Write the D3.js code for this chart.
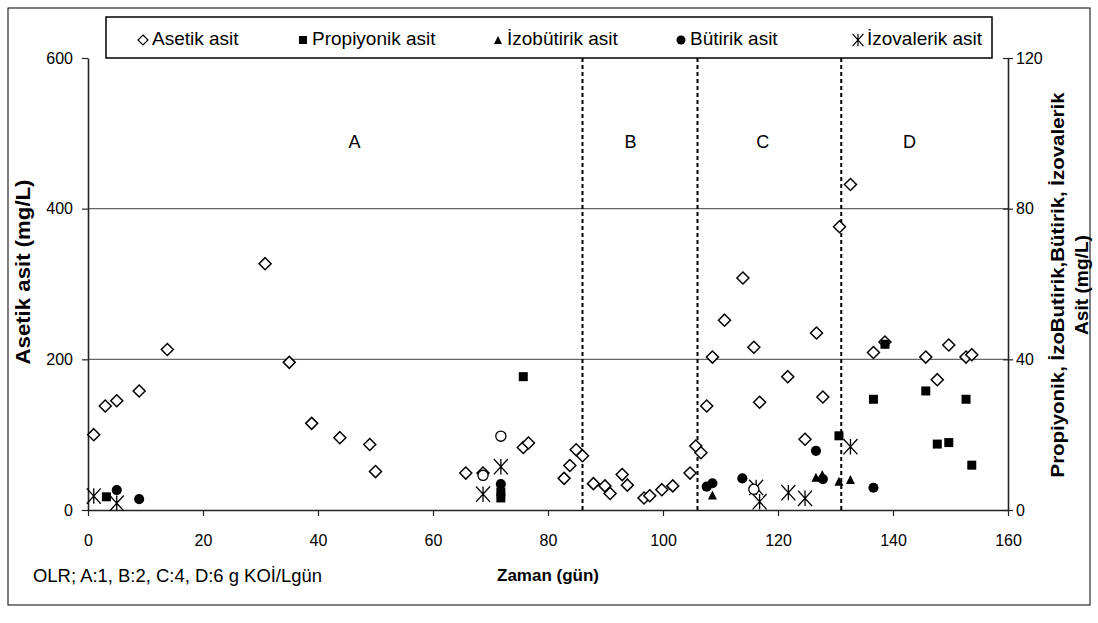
<!DOCTYPE html>
<html>
<head>
<meta charset="utf-8">
<script src="https://cdn.jsdelivr.net/npm/d3@7"></script>
<style>
  body { margin: 0; background: #fff; }
  text { font-family: Arial, "Liberation Sans", sans-serif; fill: #000; }
</style>
</head>
<body>
<div id="chart"></div>
<script>
// gün (x) ve değerler okunarak girildi
const asetikGun = [1, 3, 5, 8.9, 13.8, 30.8, 35, 38.9, 43.8, 49, 50, 65.7, 68.7, 75.7, 76.6, 82.8, 83.8, 84.9, 86, 87.9, 89.9, 90.8, 92.9, 93.8, 96.7, 97.7, 99.8, 101.7, 104.7, 105.7, 106.6, 107.6, 108.6, 110.7, 113.9, 115.8, 116.8, 121.7, 124.7, 126.7, 127.8, 130.7, 132.6, 136.6, 138.6, 145.7, 147.7, 149.7, 152.7, 153.7];
const asetik = [100, 138, 145, 158, 213, 327, 196, 115, 96, 87, 51, 49, 49, 83, 89, 42, 59, 80, 72, 35, 32, 22, 47, 33, 16, 19, 27, 32, 49, 85, 76, 138, 203, 252, 308, 216, 143, 177, 94, 235, 150, 376, 432, 209, 223, 203, 173, 219, 203, 206];

const propiyonikGun = [3.2, 71.8, 71.8, 75.7, 130.6, 136.6, 138.6, 145.7, 147.7, 149.7, 152.7, 153.7];
const propiyonik = [3.5, 4.8, 3.2, 35.4, 19.7, 29.4, 44, 31.6, 17.5, 17.9, 29.4, 11.9];

const izobutirikGun = [108.6, 126.6, 127.7, 130.6, 132.6];
const izobutirik = [4.0, 8.7, 9.4, 7.6, 8.1];

const butirikGun = [5, 8.9, 71.8, 107.6, 108.6, 113.8, 126.6, 127.8, 136.6];
const butirik = [5.3, 2.9, 6.9, 6.2, 7.1, 8.4, 15.7, 8.2, 5.9];

const izovalerikGun = [1, 5, 68.7, 71.8, 116.2, 116.8, 121.8, 124.7, 132.6];
const izovalerik = [3.7, 1.8, 4.2, 11.5, 6.0, 2.2, 4.6, 3.1, 16.8];

// lejantta olmayan boş daireler (sol eksen)
const bosDaireGun = [68.7, 71.8, 115.8];
const bosDaire = [46, 98, 27.5];

const donemSinir = [86, 106, 131];
const donemAd = ['A', 'B', 'C', 'D'];
const donemMerkez = [46, 94, 117, 142.5];

const xTicks = [0, 20, 40, 60, 80, 100, 120, 140, 160];
const solTicks = [0, 200, 400, 600];
const sagTicks = [0, 40, 80, 120];
const izgara = [200, 400];

const seriAd = ['Asetik asit', 'Propiyonik asit', 'İzobütirik asit', 'Bütirik asit', 'İzovalerik asit'];

const width = 1098, height = 623;

const svg = d3.select('#chart').append('svg')
  .attr('width', width)
  .attr('height', height);

const x = d3.scaleLinear().domain([0, 160]).range([88, 1008]);
const yL = d3.scaleLinear().domain([0, 600]).range([510, 58]);
const yR = d3.scaleLinear().domain([0, 120]).range([510, 58]);

// *** custom symbols *** //
const elmas = { draw(ctx, size) { const r = Math.sqrt(size) / 2;
  ctx.moveTo(0, -r); ctx.lineTo(r, 0); ctx.lineTo(0, r); ctx.lineTo(-r, 0); ctx.closePath(); } };
const kare = { draw(ctx, size) { const r = Math.sqrt(size) / 2; ctx.rect(-r, -r, 2 * r, 2 * r); } };
const ucgen = { draw(ctx, size) { const r = Math.sqrt(size) / 2;
  ctx.moveTo(0, -r); ctx.lineTo(r, r); ctx.lineTo(-r, r); ctx.closePath(); } };
const yildiz = { draw(ctx, size) { const r = Math.sqrt(size) / 2; const h = r * 1.1;
  ctx.moveTo(-r, -h); ctx.lineTo(r, h); ctx.moveTo(-r, h); ctx.lineTo(r, -h);
  ctx.moveTo(0, -h); ctx.lineTo(0, h); } };

// outer frame
svg.append('rect').attr('x', 8).attr('y', 8).attr('width', 1082).attr('height', 597)
  .attr('fill', 'none').attr('stroke', '#000').attr('stroke-width', 1);

// gridlines
svg.append('g').selectAll('line').data(izgara).join('line')
  .attr('x1', x(0)).attr('x2', x(160))
  .attr('y1', d => yL(d)).attr('y2', d => yL(d))
  .attr('stroke', '#666').attr('stroke-width', 1.2);

// axes
const axL = svg.append('g').attr('transform', `translate(${x(0)},0)`)
  .call(d3.axisLeft(yL).tickValues(solTicks).tickSizeOuter(0).tickSizeInner(6).tickPadding(9));
const axR = svg.append('g').attr('transform', `translate(${x(160)},0)`)
  .call(d3.axisRight(yR).tickValues(sagTicks).tickSizeOuter(0).tickSizeInner(5).tickPadding(3));
axR.selectAll('.tick line').attr('x1', -5);
const axB = svg.append('g').attr('transform', `translate(0,${yL(0)})`)
  .call(d3.axisBottom(x).tickValues(xTicks).tickSizeOuter(0).tickSizeInner(6).tickPadding(19));
[axL, axR, axB].forEach(a => {
  a.select('.domain').attr('stroke', '#222').attr('stroke-width', 1.6);
  a.selectAll('.tick line').attr('stroke', '#222').attr('stroke-width', 1.2);
  a.selectAll('.tick text').attr('font-size', 16).attr('font-family', 'Arial, "Liberation Sans", sans-serif').attr('fill', '#000');
});

// period separators
svg.append('g').selectAll('line').data(donemSinir).join('line')
  .attr('x1', d => x(d)).attr('x2', d => x(d))
  .attr('y1', yL(0)).attr('y2', yL(600))
  .attr('stroke', '#000').attr('stroke-width', 2).attr('stroke-dasharray', '4,3');

svg.append('g').selectAll('text').data(donemAd).join('text')
  .attr('x', (d, i) => x(donemMerkez[i]) + 2).attr('y', yL(487))
  .attr('text-anchor', 'middle').attr('dominant-baseline', 'middle')
  .attr('font-size', 18).text(d => d);

// *** series *** //
function seri(gun, deger, y, tip, boyut, dolgu, cizgi, cw) {
  svg.append('g').selectAll('path').data(deger).join('path')
    .attr('transform', (d, i) => `translate(${x(gun[i])},${y(d)})`)
    .attr('d', d3.symbol().type(tip).size(boyut * boyut))
    .attr('fill', dolgu).attr('stroke', cizgi).attr('stroke-width', cw);
}
seri(asetikGun, asetik, yL, elmas, 12, '#fff', '#000', 1.5);
seri(propiyonikGun, propiyonik, yR, kare, 9, '#000', 'none', 0);
seri(izobutirikGun, izobutirik, yR, ucgen, 9, '#000', 'none', 0);
seri(butirikGun, butirik, yR, d3.symbolCircle, 9, '#000', 'none', 0);
seri(izovalerikGun, izovalerik, yR, yildiz, 14, 'none', '#000', 1.3);
seri(bosDaireGun, bosDaire, yL, d3.symbolCircle, 9, '#fff', '#000', 1.3);

// legend
const lg = svg.append('g');
lg.append('rect').attr('x', 106).attr('y', 17).attr('width', 886).attr('height', 41)
  .attr('fill', '#fff').attr('stroke', '#000').attr('stroke-width', 1.5);
const lgX = [143, 303, 498, 681, 858];
const lgTip = [elmas, kare, ucgen, d3.symbolCircle, yildiz];
const lgBoy = [10, 8, 8, 8, 11];
lg.selectAll('path').data(seriAd).join('path')
  .attr('transform', (d, i) => `translate(${lgX[i]},40)`)
  .attr('d', (d, i) => d3.symbol().type(lgTip[i]).size(lgBoy[i] * lgBoy[i])())
  .attr('fill', (d, i) => i === 0 ? '#fff' : i === 4 ? 'none' : '#000')
  .attr('stroke', (d, i) => i === 0 || i === 4 ? '#000' : 'none')
  .attr('stroke-width', 1.2);
lg.selectAll('text').data(seriAd).join('text')
  .attr('x', (d, i) => lgX[i] + 9).attr('y', 40)
  .attr('dominant-baseline', 'middle').attr('font-size', 19)
  .text(d => d);

// axis titles
svg.append('text').attr('transform', `translate(25,272) rotate(-90)`)
  .attr('text-anchor', 'middle').attr('dominant-baseline', 'middle')
  .attr('font-size', 20).attr('font-weight', 'bold')
  .attr('textLength', 185).attr('lengthAdjust', 'spacingAndGlyphs')
  .text('Asetik asit (mg/L)');
const sagBaslik = ['Propiyonik, İzoButirik,Bütirik, İzovalerik', 'Asit (mg/L)'];
const sagUzunluk = [385, 100];
svg.append('g').selectAll('text').data(sagBaslik).join('text')
  .attr('transform', (d, i) => `translate(${1059 + i * 24},285) rotate(-90)`)
  .attr('text-anchor', 'middle').attr('dominant-baseline', 'middle')
  .attr('font-size', 19).attr('font-weight', 'bold')
  .attr('textLength', (d, i) => sagUzunluk[i]).attr('lengthAdjust', 'spacingAndGlyphs')
  .text(d => d);
svg.append('text').attr('x', x(80)).attr('y', 577)
  .attr('text-anchor', 'middle').attr('dominant-baseline', 'middle')
  .attr('font-size', 17).attr('font-weight', 'bold').text('Zaman (gün)');
svg.append('text').attr('x', 33).attr('y', 577)
  .attr('dominant-baseline', 'middle')
  .attr('font-size', 18).attr('textLength', 289).attr('lengthAdjust', 'spacingAndGlyphs')
  .text('OLR; A:1, B:2, C:4, D:6 g KOİ/Lgün');
</script>
</body>
</html>
